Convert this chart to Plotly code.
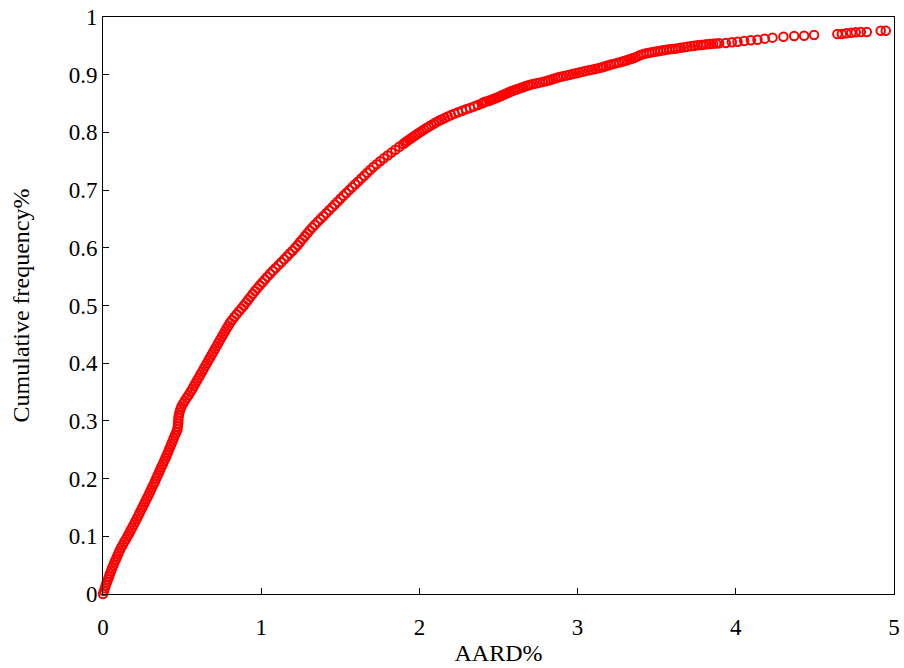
import plotly.graph_objects as go

# Cumulative frequency curve (dense part)
freq_main = [
    0.000, 0.005, 0.010, 0.015, 0.020, 0.025, 0.030, 0.035, 0.040, 0.045,
    0.050, 0.055, 0.060, 0.065, 0.070, 0.075, 0.080, 0.085, 0.090, 0.095,
    0.100, 0.105, 0.110, 0.115, 0.120, 0.125, 0.130, 0.135, 0.140, 0.145,
    0.150, 0.155, 0.160, 0.165, 0.170, 0.175, 0.180, 0.185, 0.190, 0.195,
    0.200, 0.205, 0.210, 0.215, 0.220, 0.225, 0.230, 0.235, 0.240, 0.245,
    0.250, 0.255, 0.260, 0.265, 0.270, 0.275, 0.280, 0.285, 0.290, 0.295,
    0.300, 0.305, 0.310, 0.315, 0.320, 0.325, 0.330, 0.335, 0.340, 0.345,
    0.350, 0.355, 0.360, 0.365, 0.370, 0.375, 0.380, 0.385, 0.390, 0.395,
    0.400, 0.405, 0.410, 0.415, 0.420, 0.425, 0.430, 0.435, 0.440, 0.445,
    0.450, 0.455, 0.460, 0.465, 0.470, 0.475, 0.480, 0.485, 0.490, 0.495,
    0.500, 0.505, 0.510, 0.515, 0.520, 0.525, 0.530, 0.535, 0.540, 0.545,
    0.550, 0.555, 0.560, 0.565, 0.570, 0.575, 0.580, 0.585, 0.590, 0.595,
    0.600, 0.605, 0.610, 0.615, 0.620, 0.625, 0.630, 0.635, 0.640, 0.645,
    0.650, 0.655, 0.660, 0.665, 0.670, 0.675, 0.680, 0.685, 0.690, 0.695,
    0.700, 0.705, 0.710, 0.715, 0.720, 0.725, 0.730, 0.735, 0.740, 0.745,
    0.750, 0.755, 0.760, 0.765, 0.770, 0.775, 0.780, 0.785, 0.790, 0.795,
    0.800, 0.805, 0.810, 0.815, 0.820, 0.825, 0.830, 0.835, 0.840, 0.845,
    0.850,
]
aard_main = [
    0.000, 0.006, 0.012, 0.018, 0.024, 0.031, 0.038, 0.044, 0.051, 0.058,
    0.066, 0.073, 0.081, 0.089, 0.097, 0.105, 0.114, 0.124, 0.134, 0.145,
    0.155, 0.165, 0.174, 0.184, 0.194, 0.203, 0.213, 0.222, 0.231, 0.240,
    0.249, 0.258, 0.267, 0.276, 0.285, 0.294, 0.302, 0.311, 0.320, 0.328,
    0.336, 0.344, 0.353, 0.361, 0.369, 0.378, 0.386, 0.394, 0.402, 0.410,
    0.417, 0.425, 0.432, 0.440, 0.447, 0.455, 0.463, 0.470, 0.473, 0.475,
    0.476, 0.477, 0.480, 0.484, 0.489, 0.496, 0.506, 0.517, 0.529, 0.541,
    0.553, 0.564, 0.574, 0.584, 0.594, 0.605, 0.615, 0.626, 0.636, 0.646,
    0.657, 0.667, 0.677, 0.688, 0.698, 0.708, 0.719, 0.729, 0.739, 0.750,
    0.760, 0.771, 0.781, 0.792, 0.803, 0.816, 0.830, 0.845, 0.860, 0.875,
    0.890, 0.904, 0.918, 0.932, 0.946, 0.961, 0.976, 0.991, 1.007, 1.023,
    1.039, 1.056, 1.073, 1.091, 1.109, 1.127, 1.145, 1.163, 1.180, 1.198,
    1.215, 1.231, 1.246, 1.261, 1.276, 1.291, 1.306, 1.322, 1.339, 1.357,
    1.375, 1.393, 1.411, 1.429, 1.447, 1.465, 1.483, 1.501, 1.519, 1.537,
    1.556, 1.575, 1.594, 1.613, 1.632, 1.651, 1.670, 1.689, 1.709, 1.730,
    1.752, 1.775, 1.799, 1.823, 1.848, 1.873, 1.898, 1.923, 1.948, 1.975,
    2.002, 2.030, 2.059, 2.090, 2.123, 2.160, 2.200, 2.245, 2.295, 2.345,
    2.395,
]
# Extra points where the band flattens (0.78 - 0.85)
freq_bend = [
    0.7825, 0.7875, 0.7925, 0.7975, 0.8025, 0.8075, 0.8125, 0.8175, 0.8225, 0.8275,
    0.8325, 0.8375, 0.8425, 0.8475,
]
aard_bend = [
    1.910, 1.935, 1.961, 1.988, 2.016, 2.044, 2.074, 2.106, 2.141, 2.180,
    2.222, 2.270, 2.320, 2.370,
]

# Flatter upper part
freq_upper = [
    0.85125, 0.8525, 0.85375, 0.855, 0.85625, 0.8575, 0.85875, 0.860, 0.86125, 0.8625,
    0.86375, 0.865, 0.86625, 0.8675, 0.86875, 0.870, 0.87125, 0.8725, 0.87375, 0.875,
    0.87625, 0.8775, 0.87875, 0.880, 0.88125, 0.8825, 0.88375, 0.885, 0.88625, 0.8875,
    0.88875, 0.890, 0.89125, 0.8925, 0.89375, 0.895, 0.89625, 0.8975, 0.89875, 0.900,
    0.90125, 0.9025, 0.90375, 0.905, 0.90625, 0.9075, 0.90875, 0.910, 0.91125, 0.9125,
    0.91375, 0.915, 0.91625, 0.9175, 0.91875, 0.920, 0.92125, 0.9225, 0.92375, 0.925,
    0.92625, 0.9275, 0.92875, 0.930,
]
aard_upper = [
    2.402, 2.41, 2.425, 2.44, 2.452, 2.465, 2.477, 2.49, 2.50, 2.51,
    2.52, 2.53, 2.54, 2.55, 2.56, 2.57, 2.582, 2.595, 2.607, 2.62,
    2.632, 2.645, 2.657, 2.67, 2.685, 2.70, 2.72, 2.74, 2.76, 2.78,
    2.797, 2.815, 2.83, 2.845, 2.86, 2.875, 2.892, 2.91, 2.93, 2.95,
    2.97, 2.99, 3.01, 3.03, 3.05, 3.07, 3.09, 3.11, 3.13, 3.15,
    3.165, 3.18, 3.195, 3.21, 3.228, 3.245, 3.262, 3.28, 3.295, 3.31,
    3.325, 3.34, 3.352, 3.365,
]

# Tail (individual circles)
freq_tail = [
    0.9323, 0.9347, 0.9359, 0.9371, 0.9380, 0.9388, 0.9397, 0.9406, 0.9415, 0.9423,
    0.9432, 0.9440, 0.9446, 0.9451, 0.9460, 0.9468, 0.9477, 0.9486, 0.9495, 0.9503,
    0.9509, 0.9515, 0.9521, 0.9527, 0.9533, 0.9538, 0.9541, 0.9544, 0.9550, 0.9562,
    0.9572, 0.9584, 0.9596, 0.9607, 0.9625, 0.9642, 0.9659, 0.9671, 0.9676, 0.9688,
    0.9705, 0.9705, 0.9717, 0.9728, 0.9734, 0.9740, 0.9740, 0.9763, 0.9763,
]
aard_tail = [
    3.383, 3.401, 3.418, 3.436, 3.453, 3.470, 3.488, 3.506, 3.524, 3.542,
    3.561, 3.580, 3.598, 3.617, 3.635, 3.653, 3.674, 3.695, 3.716, 3.737,
    3.758, 3.780, 3.797, 3.815, 3.836, 3.857, 3.876, 3.895, 3.937, 3.975,
    4.011, 4.053, 4.095, 4.137, 4.183, 4.232, 4.301, 4.369, 4.432, 4.495,
    4.642, 4.670, 4.699, 4.730, 4.758, 4.790, 4.828, 4.916, 4.948,
]

x_ticks = [0, 1, 2, 3, 4, 5]
y_ticks = [0, 0.1, 0.2, 0.3, 0.4, 0.5, 0.6, 0.7, 0.8, 0.9, 1]
y_tick_labels = ["0", "0.1", "0.2", "0.3", "0.4", "0.5", "0.6", "0.7", "0.8", "0.9", "1"]

aard = aard_main + aard_bend + aard_upper + aard_tail
freq = freq_main + freq_bend + freq_upper + freq_tail

fig = go.Figure()
fig.add_trace(go.Scatter(
    x=aard, y=freq, mode="markers",
    marker=dict(symbol="circle-open", size=8.5, color="#FF0000",
                line=dict(width=2, color="#FF0000")),
    cliponaxis=False, showlegend=False, hoverinfo="skip",
))

font_family = "Liberation Serif, Times New Roman, serif"
fig.update_layout(
    width=904, height=668,
    margin=dict(l=103, r=10, t=17, b=74),
    paper_bgcolor="white", plot_bgcolor="white",
    font=dict(family=font_family, size=23, color="black"),
)
fig.update_xaxes(
    range=[0, 5], tickvals=x_ticks, ticktext=[str(v) for v in x_ticks],
    ticks="inside", ticklen=6, tickcolor="black",
    showline=True, linecolor="black", linewidth=1, mirror=True,
    showgrid=False, zeroline=False, automargin=False,
    ticklabelstandoff=12, ticklabeloverflow="allow",
    title=dict(text="AARD%", font=dict(size=24), standoff=5),
)
fig.update_yaxes(
    range=[0, 1], tickvals=y_ticks, ticktext=y_tick_labels,
    ticks="inside", ticklen=6, tickcolor="black",
    showline=True, linecolor="black", linewidth=1, mirror=True,
    showgrid=False, zeroline=False, automargin=False,
    ticklabeloverflow="allow",
    title=dict(text="Cumulative frequency%", font=dict(size=24), standoff=32),
)

# remove the default 8px page margin so the figure fills the window exactly
fig.write_html("out.html", config={"displayModeBar": False},
               post_script="document.body.style.margin='0';")
